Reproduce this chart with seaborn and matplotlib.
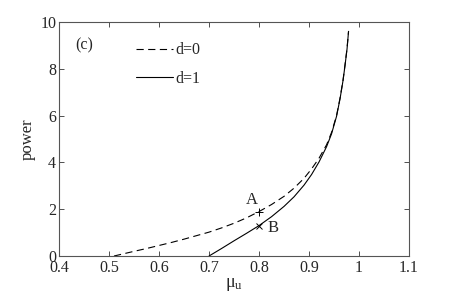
import matplotlib
matplotlib.use("Agg")
import matplotlib.pyplot as plt
import seaborn as sns
import pandas as pd

# Data
mu_d0 = [0.51, 0.53, 0.55, 0.575, 0.60, 0.625, 0.65, 0.675, 0.70, 0.725, 0.75, 0.775, 0.80,
         0.825, 0.85, 0.87, 0.89, 0.905, 0.92, 0.935, 0.945, 0.955, 0.962, 0.968, 0.972, 0.976, 0.979]
pw_d0 = [0.0, 0.10, 0.20, 0.32, 0.45, 0.58, 0.72, 0.87, 1.02, 1.20, 1.40, 1.63, 1.90,
         2.20, 2.55, 2.90, 3.32, 3.72, 4.18, 4.75, 5.28, 6.00, 6.75, 7.52, 8.18, 8.88, 9.60]
mu_d1 = [0.70, 0.725, 0.75, 0.775, 0.80, 0.825, 0.85, 0.87, 0.89, 0.905, 0.92, 0.935,
         0.945, 0.955, 0.962, 0.968, 0.972, 0.976, 0.979]
pw_d1 = [0.0, 0.32, 0.65, 0.97, 1.30, 1.68, 2.12, 2.53, 3.03, 3.48, 4.02, 4.67,
         5.22, 5.97, 6.72, 7.50, 8.15, 8.85, 9.60]
labels = ["d=0", "d=1"]
pt_A = (0.80, 1.90)
pt_B = (0.80, 1.30)
x_ticks = [0.4, 0.5, 0.6, 0.7, 0.8, 0.9, 1.0, 1.1]
x_ticklabels = ["0.4", "0.5", "0.6", "0.7", "0.8", "0.9", "1", "1.1"]
y_ticks = [0, 2, 4, 6, 8, 10]

sns.set_style("ticks")
plt.rcParams["font.family"] = ["Liberation Serif", "DejaVu Serif"]
plt.rcParams["mathtext.fontset"] = "custom"
plt.rcParams["mathtext.rm"] = "Liberation Serif"
plt.rcParams["mathtext.it"] = "Liberation Serif:italic"
plt.rcParams["xtick.direction"] = "in"
plt.rcParams["ytick.direction"] = "in"

df = pd.concat([
    pd.DataFrame({"mu": mu_d0, "power": pw_d0, "d": labels[0]}),
    pd.DataFrame({"mu": mu_d1, "power": pw_d1, "d": labels[1]}),
])

fig = plt.figure(figsize=(4.52, 2.97), dpi=100)
ax = fig.add_axes([0.1305, 0.138, 0.7745, 0.788])

sns.lineplot(data=df, x="mu", y="power", hue="d", style="d",
             palette={labels[0]: "black", labels[1]: "black"},
             dashes={labels[0]: (6.5, 4), labels[1]: ""},
             linewidth=0.8, sort=False, estimator=None, ax=ax)

ax.plot([pt_A[0]], [pt_A[1]], marker="+", color="black", markersize=6, markeredgewidth=0.7)
ax.plot([pt_B[0]], [pt_B[1]], marker="x", color="black", markersize=4.5, markeredgewidth=0.7)
ax.text(0.786, 2.39, "A", fontsize=12, ha="center", va="center")
ax.text(0.828, 1.2, "B", fontsize=12, ha="center", va="center")
ax.text(0.432, 9.0, "(c)", fontsize=11.5, ha="left", va="center")

ax.set_xlim(0.4, 1.1)
ax.set_ylim(0, 10)
ax.set_xticks(x_ticks)
ax.set_xticklabels(x_ticklabels)
ax.set_yticks(y_ticks)
ax.tick_params(axis="both", labelsize=11.5, length=3.5, width=0.6, top=True, right=True, pad=2, color="#333333")
ax.tick_params(axis="x", pad=3)
for s in ax.spines.values():
    s.set_linewidth(0.8)
    s.set_color("#555555")

ax.set_xlabel(r"$\mathregular{\mu_u}$", fontsize=13, labelpad=0)
ax.set_ylabel("power", fontsize=12, labelpad=3)

leg = ax.legend(loc="upper left", bbox_to_anchor=(0.18, 0.975), frameon=False,
                fontsize=11.5, handlelength=2.3, handletextpad=0.15, labelspacing=0.8)

fig.savefig("out.png", dpi=100)
